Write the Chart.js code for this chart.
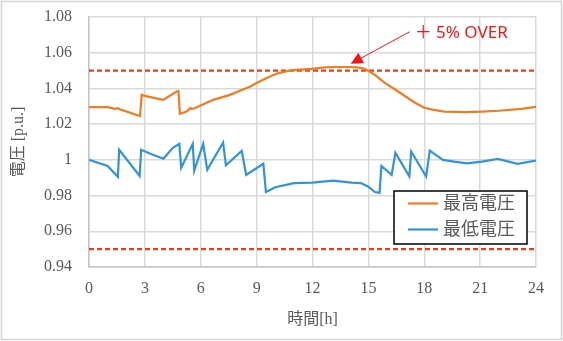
<!DOCTYPE html>
<html>
<head>
<meta charset="utf-8">
<script src="https://cdn.jsdelivr.net/npm/chart.js@4.4.1/dist/chart.umd.min.js"></script>
<style>
  html, body { margin: 0; padding: 0; background: #fff; }
  canvas { display: block; }
</style>
</head>
<body>
<canvas id="myChart" width="563" height="341"></canvas>
<script>
'use strict'

// max voltage (orange)
const maxHours = [0, 1.0, 1.4, 1.57, 1.65, 2.74, 2.83, 3.0, 3.55, 3.99, 4.7, 4.8, 4.88, 5.24, 5.45, 5.52, 5.7,
  6.67, 7.57, 8.3, 8.64, 9.0, 9.54, 10.16, 10.9, 11.95, 12.67, 13.2, 14.0, 14.4, 14.8, 15.35, 15.9, 16.5,
  17.0, 17.5, 18.0, 18.5, 19.1, 20.2, 21.1, 22.0, 23.2, 24.0];
const maxVolt = [1.0295, 1.0295, 1.0286, 1.029, 1.0283, 1.0246, 1.0364, 1.0358, 1.0346, 1.0336, 1.0383, 1.0385, 1.0258,
  1.027, 1.029, 1.0284, 1.029, 1.0336, 1.0364, 1.0395, 1.041, 1.043, 1.0458, 1.0486, 1.0502, 1.051, 1.0518, 1.052,
  1.052, 1.0518, 1.051, 1.0476, 1.043, 1.039, 1.0355, 1.032, 1.0292, 1.028, 1.027, 1.0267, 1.027, 1.0275, 1.0286, 1.0297];

// min voltage (blue)
const minHours = [0, 1.0, 1.55, 1.62, 2.72, 2.8, 3.3, 4.0, 4.5, 4.85, 4.95, 5.57, 5.65, 6.13, 6.35, 7.2, 7.35,
  8.2, 8.44, 9.36, 9.5, 10.0, 11.0, 12.0, 13.1, 14.1, 14.6, 15.0, 15.35, 15.6, 15.7, 16.25, 16.45, 17.2, 17.3,
  18.1, 18.3, 19.0, 19.6, 20.3, 21.1, 21.95, 23.0, 24.0];
const minVolt = [1.0, 0.9966, 0.9905, 1.0056, 0.991, 1.0056, 1.0034, 1.0006, 1.0067, 1.009, 0.9955, 1.009, 0.994,
  1.009, 0.9944, 1.0097, 0.997, 1.005, 0.9915, 0.9978, 0.982, 0.9847, 0.987, 0.9873, 0.9884, 0.9873, 0.987, 0.985,
  0.982, 0.9815, 0.9966, 0.9916, 1.004, 0.9907, 1.0047, 0.9907, 1.0052, 1.0, 0.999, 0.998, 0.999, 1.0005, 0.9978, 0.9996];

const seriesNames = ['最高電圧', '最低電圧'];
const limitUpper = 1.05;
const limitLower = 0.95;
const overLabel = '＋ 5% OVER';
const overTip = { x: 14.05, y: 1.0538 };

const xTicks = [0, 3, 6, 9, 12, 15, 18, 21, 24];
const yTicks = [0.94, 0.96, 0.98, 1, 1.02, 1.04, 1.06, 1.08];

const orange = '#f07c22';
const blue = '#3393d8';
const dashRed = '#f03c14';
const labelGray = '#595959';
const tickFont = { family: "'Liberation Serif', 'Times New Roman', serif", size: 16 };
const jpFont = "'Liberation Serif', 'Noto Sans CJK JP', serif";

function toPoints(xs, ys) {
  return xs.map((x, i) => ({ x: x, y: ys[i] }));
}

// background, outer frame, legend box and the +5% note
const frameAndNotes = {
  id: 'frameAndNotes',
  beforeDraw(chart) {
    const c = chart.ctx;
    c.save();
    c.fillStyle = '#fff';
    c.fillRect(0, 0, chart.width, chart.height);
    c.strokeStyle = '#d4d4d4';
    c.lineWidth = 1.5;
    c.strokeRect(1.5, 1.5, chart.width - 3, chart.height - 3);
    c.restore();
  },
  afterDraw(chart) {
    const c = chart.ctx;
    const area = chart.chartArea;
    c.save();

    // legend
    const boxW = 133, boxH = 53;
    const bx = area.right - 9 - boxW;
    const by = area.top + 174;
    c.fillStyle = '#fff';
    c.fillRect(bx, by, boxW, boxH);
    c.strokeStyle = '#000';
    c.lineWidth = 1.5;
    c.strokeRect(bx, by, boxW, boxH);
    const shown = chart.data.datasets.filter(d => !d.isLimit);
    c.font = '18px ' + jpFont;
    c.textBaseline = 'middle';
    c.textAlign = 'left';
    shown.forEach((ds, i) => {
      const ly = by + 12.5 + i * 26;
      c.strokeStyle = ds.borderColor;
      c.lineWidth = 2.2;
      c.beginPath();
      c.moveTo(bx + 14, ly);
      c.lineTo(bx + 44, ly);
      c.stroke();
      c.fillStyle = labelGray;
      c.fillText(ds.label, bx + 49, ly + 1);
    });

    // +5% OVER arrow
    const tx = chart.scales.x.getPixelForValue(overTip.x);
    const ty = chart.scales.y.getPixelForValue(overTip.y);
    const sx = tx + 59, sy = ty - 32;
    const ang = Math.atan2(ty - sy, tx - sx);
    c.strokeStyle = '#f21818';
    c.fillStyle = '#f21818';
    c.lineWidth = 1;
    c.beginPath();
    c.moveTo(sx, sy);
    c.lineTo(tx - Math.cos(ang) * 10, ty - Math.sin(ang) * 10);
    c.stroke();
    c.beginPath();
    c.moveTo(tx, ty);
    c.lineTo(tx - Math.cos(ang) * 12 + Math.sin(ang) * 6, ty - Math.sin(ang) * 12 - Math.cos(ang) * 6);
    c.lineTo(tx - Math.cos(ang) * 12 - Math.sin(ang) * 6, ty - Math.sin(ang) * 12 + Math.cos(ang) * 6);
    c.closePath();
    c.fill();
    c.font = "17px 'Noto Sans', 'Noto Sans CJK JP', sans-serif";
    c.textBaseline = 'middle';
    c.fillText(overLabel, sx + 5, sy + 1);

    c.restore();
  }
};

const ctx = document.getElementById('myChart').getContext('2d');
const myChart = new Chart(ctx, {
  type: 'line',
  data: {
    datasets: [
      {
        label: seriesNames[0],
        data: toPoints(maxHours, maxVolt),
        borderColor: orange,
        borderWidth: 2.2,
        pointRadius: 0,
        tension: 0,
      },
      {
        label: seriesNames[1],
        data: toPoints(minHours, minVolt),
        borderColor: blue,
        borderWidth: 2.2,
        pointRadius: 0,
        tension: 0,
      },
      {
        label: 'upper',
        isLimit: true,
        data: toPoints([0, 24], [limitUpper, limitUpper]),
        borderColor: dashRed,
        borderWidth: 2.2,
        borderDash: [5, 3],
        pointRadius: 0,
      },
      {
        label: 'lower',
        isLimit: true,
        data: toPoints([0, 24], [limitLower, limitLower]),
        borderColor: dashRed,
        borderWidth: 2.2,
        borderDash: [5, 3],
        pointRadius: 0,
      },
    ],
  },
  options: {
    responsive: false,
    animation: false,
    layout: { padding: { left: 0, right: 27, top: 17, bottom: 0 } },
    plugins: {
      legend: { display: false },
      tooltip: { enabled: false },
    },
    scales: {
      x: {
        type: 'linear',
        min: 0,
        max: 24,
        afterBuildTicks: s => { s.ticks = xTicks.map(v => ({ value: v })); },
        afterFit: s => { s.height = 74; s.paddingLeft = 0; s.paddingRight = 0; },
        grid: { color: '#d9d9d9', lineWidth: 1.5, drawTicks: false },
        border: { color: '#c4c4c4', width: 1.5 },
        ticks: { color: labelGray, font: tickFont, padding: 12, maxRotation: 0 },
        title: {
          display: true,
          text: '時間[h]',
          color: labelGray,
          font: { family: jpFont, size: 16 },
          padding: { top: 0, bottom: 12 },
        },
      },
      y: {
        min: 0.94,
        max: 1.08,
        afterBuildTicks: s => { s.ticks = yTicks.map(v => ({ value: v })); },
        afterFit: s => { s.width = 89; s.paddingTop = 0; s.paddingBottom = 0; },
        grid: { color: '#d9d9d9', lineWidth: 1.5, drawTicks: false },
        border: { color: '#c4c4c4', width: 1.5 },
        ticks: {
          color: labelGray,
          font: tickFont,
          padding: 17,
          callback: v => String(Number(v.toFixed(2))),
        },
        title: {
          display: true,
          text: '電圧 [p.u.]',
          color: labelGray,
          font: { family: jpFont, size: 16 },
          padding: { top: 9, bottom: 0 },
        },
      },
    },
  },
  plugins: [frameAndNotes],
});
</script>
</body>
</html>
